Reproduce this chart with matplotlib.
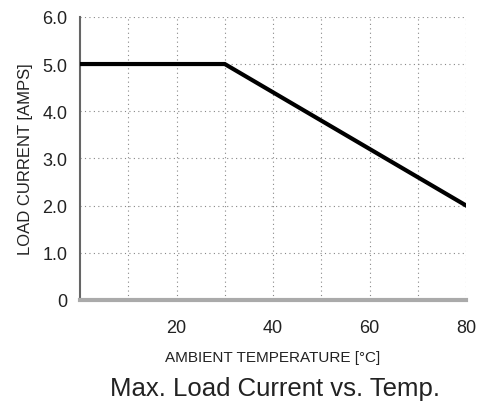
import numpy as np
import matplotlib
matplotlib.use("Agg")
import matplotlib.pyplot as plt

# derating curve
temp = [0, 30, 80]
current = [5.0, 5.0, 2.0]

x_ticks = [20, 40, 60, 80]
x_grid = [10, 20, 30, 40, 50, 60, 70, 80]
y_ticks = [0, 1, 2, 3, 4, 5, 6]
y_labels = ["0", "1.0", "2.0", "3.0", "4.0", "5.0", "6.0"]

plt.rcParams["font.family"] = ["Liberation Sans", "DejaVu Sans"]

fig = plt.figure(figsize=(4.79, 4.06), dpi=100)
ax = fig.add_axes([0.167, 0.259, 0.806, 0.697])

for xv in x_grid:
    ax.axvline(xv, color="#888888", lw=0.8, ls=(0, (1, 3)), zorder=1)
for yv in y_ticks[1:]:
    ax.axhline(yv, color="#888888", lw=0.8, ls=(0, (1, 3)), zorder=1)

ax.plot(temp, current, color="black", lw=3, solid_joinstyle="miter", zorder=3)

ax.set_xlim(0, 80)
ax.set_ylim(0, 6)
ax.set_xticks(x_ticks)
ax.set_yticks(y_ticks)
ax.set_yticklabels(y_labels)
ax.tick_params(length=0, labelsize=13, colors="#222222")
ax.tick_params(axis="x", pad=14)
ax.tick_params(axis="y", pad=9)

for s in ["top", "right"]:
    ax.spines[s].set_visible(False)
ax.spines["left"].set_color("#666666")
ax.spines["left"].set_linewidth(1.5)
ax.spines["bottom"].set_color("#aaaaaa")
ax.spines["bottom"].set_linewidth(3)

ax.set_xlabel("AMBIENT TEMPERATURE [°C]", fontsize=11, color="#222222", labelpad=10)
ax.set_ylabel("LOAD CURRENT [AMPS]", fontsize=12, color="#222222", labelpad=7)

fig.text(0.574, 0.042, "Max. Load Current vs. Temp.", ha="center", va="center",
         fontsize=18.5, color="#222222")

fig.savefig("out.png", dpi=100)
